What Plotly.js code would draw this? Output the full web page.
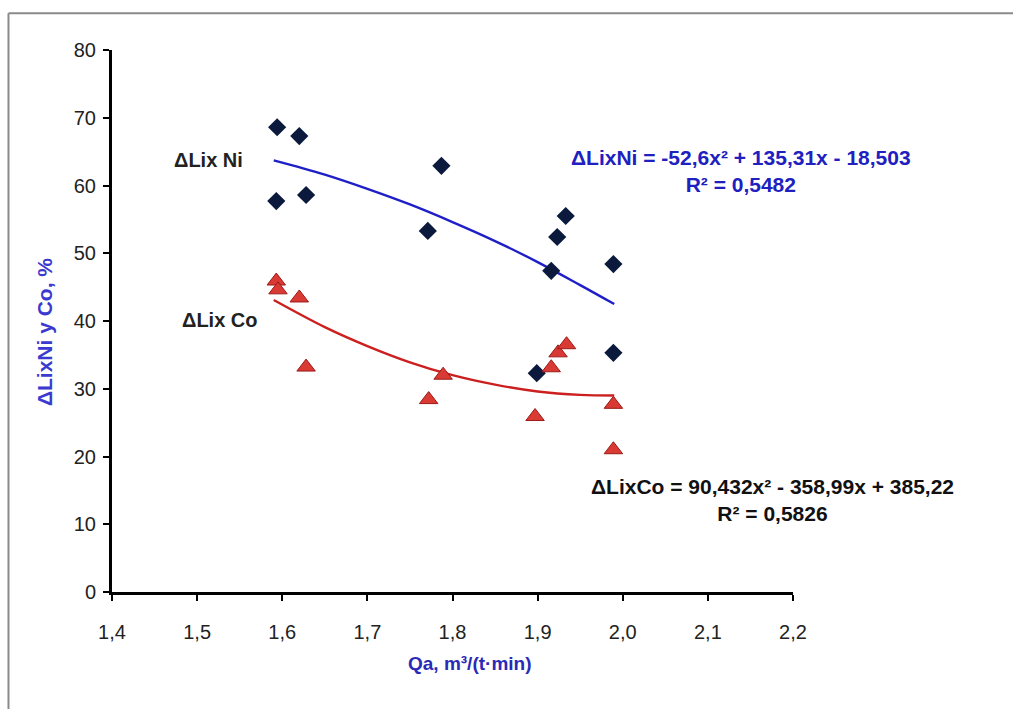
<!DOCTYPE html>
<html>
<head>
<meta charset="utf-8">
<script src="https://cdn.plot.ly/plotly-3.0.1.min.js"></script>
<style>
html,body{margin:0;padding:0;background:#fff;}
#chart{width:1013px;height:709px;}
</style>
</head>
<body>
<div id="chart"></div>
<script>
// Measured data (Qa, m3/(t·min))
const niX = [1.594, 1.620, 1.593, 1.628, 1.771, 1.787, 1.899, 1.916, 1.923, 1.933, 1.989, 1.989];
const niY = [68.6, 67.3, 57.7, 58.6, 53.3, 62.9, 32.3, 47.4, 52.4, 55.5, 48.4, 35.3];
const coX = [1.593, 1.595, 1.620, 1.628, 1.772, 1.789, 1.897, 1.916, 1.924, 1.934, 1.989, 1.989];
const coY = [45.9, 44.6, 43.4, 33.2, 28.4, 32.0, 25.9, 33.1, 35.3, 36.5, 27.7, 21.0];

// Trendline points
const trendX = [1.59, 1.65, 1.70, 1.75, 1.80, 1.85, 1.90, 1.95, 1.99];
const niTrendY = [63.7, 61.6, 59.5, 57.2, 54.6, 51.8, 48.7, 45.3, 42.5];
const coTrendY = [43.1, 39.1, 36.3, 33.9, 32.0, 30.6, 29.6, 29.1, 29.0];

const xTickVals = [1.4, 1.5, 1.6, 1.7, 1.8, 1.9, 2.0, 2.1, 2.2];
const xTickText = ['1,4', '1,5', '1,6', '1,7', '1,8', '1,9', '2,0', '2,1', '2,2'];
const yTickVals = [0, 10, 20, 30, 40, 50, 60, 70, 80];

const niEquation = 'ΔLixNi = -52,6x² + 135,31x - 18,503<br>R² = 0,5482';
const coEquation = 'ΔLixCo = 90,432x² - 358,99x + 385,22<br>R² = 0,5826';

const traces = [
  {x: trendX, y: niTrendY, mode: 'lines', line: {color: '#1f1fc8', width: 2.4, shape: 'spline'}, hoverinfo: 'skip'},
  {x: trendX, y: coTrendY, mode: 'lines', line: {color: '#cc1f1f', width: 2.4, shape: 'spline'}, hoverinfo: 'skip'},
  {x: niX, y: niY, mode: 'markers', marker: {symbol: 'diamond', size: 14, color: '#0b1a3c', line: {color: '#0b1a3c', width: 0}}},
  {x: coX, y: coY, mode: 'markers', marker: {symbol: 'triangle-up', size: 16, color: '#d93a33', line: {color: '#9c1a18', width: 1}}}
];

const FF = 'Liberation Sans, Arial, sans-serif';
const tickFont = {family: FF, size: 20, color: '#222'};

const layout = {
  width: 1013, height: 709,
  margin: {l: 112, r: 220, t: 50, b: 117},
  paper_bgcolor: '#fff', plot_bgcolor: '#fff',
  showlegend: false,
  xaxis: {
    range: [1.4, 2.2], tickvals: xTickVals, ticktext: xTickText,
    showgrid: false, zeroline: false, showline: true, linecolor: '#000', linewidth: 3,
    ticks: 'outside', ticklen: 6, tickwidth: 2, tickcolor: '#000',
    tickfont: tickFont, ticklabelstandoff: 14
  },
  yaxis: {
    range: [0, 80], tickvals: yTickVals,
    showgrid: false, zeroline: false, showline: true, linecolor: '#000', linewidth: 3,
    ticks: 'outside', ticklen: 6, tickwidth: 2, tickcolor: '#000',
    tickfont: tickFont, ticklabelstandoff: 3
  },
  annotations: [
    {xref: 'paper', yref: 'paper', x: -0.098, y: 0.48, xanchor: 'center', yanchor: 'middle',
     text: 'ΔLixNi y Co, %', textangle: -90, showarrow: false,
     font: {family: FF, size: 21, color: '#3a3ad0', weight: 'bold'}},
    {xref: 'paper', yref: 'paper', x: 0.526, y: -0.131, xanchor: 'center', yanchor: 'middle',
     text: 'Qa, m³/(t·min)', showarrow: false,
     font: {family: FF, size: 19, color: '#2a2ab8', weight: 'bold'}},
    {xref: 'x', yref: 'y', x: 1.513, y: 63.8, xanchor: 'center', yanchor: 'middle', text: 'ΔLix Ni', showarrow: false,
     font: {family: FF, size: 20, color: '#222', weight: 'bold'}},
    {xref: 'x', yref: 'y', x: 1.527, y: 40.1, xanchor: 'center', yanchor: 'middle', text: 'ΔLix Co', showarrow: false,
     font: {family: FF, size: 20, color: '#222', weight: 'bold'}},
    {xref: 'x', yref: 'y', x: 2.139, y: 62.1, xanchor: 'center', yanchor: 'middle', text: niEquation, showarrow: false, align: 'center',
     font: {family: FF, size: 21, color: '#2020c0', weight: 'bold'}},
    {xref: 'x', yref: 'y', x: 2.176, y: 13.6, xanchor: 'center', yanchor: 'middle', text: coEquation, showarrow: false, align: 'center',
     font: {family: FF, size: 21, color: '#111', weight: 'bold'}}
  ],
  shapes: [
    {type: 'line', xref: 'paper', yref: 'paper', x0: -0.152, x1: 1.35, y0: 1.068, y1: 1.068, line: {color: '#8a8a8a', width: 2}},
    {type: 'line', xref: 'paper', yref: 'paper', x0: -0.152, x1: -0.152, y0: 1.068, y1: -0.25, line: {color: '#8a8a8a', width: 2}}
  ]
};

Plotly.newPlot('chart', traces, layout, {displayModeBar: false, staticPlot: true});
</script>
</body>
</html>
